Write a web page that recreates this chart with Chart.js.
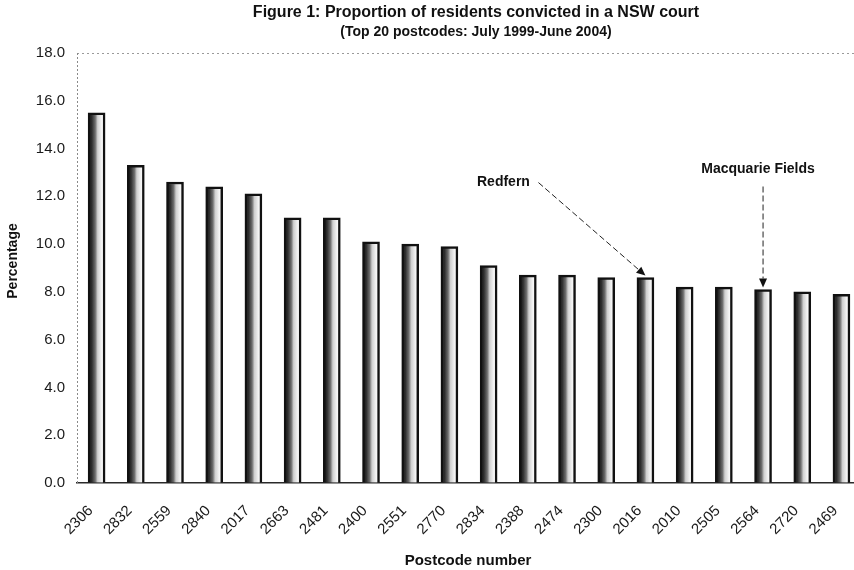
<!DOCTYPE html>
<html>
<head>
<meta charset="utf-8">
<title>Proportion of residents convicted in a NSW court</title>
<script src="https://cdn.jsdelivr.net/npm/chart.js@4/dist/chart.umd.min.js"></script>
<style>
  html, body { margin: 0; padding: 0; background: #fff; }
  #wrap { width: 854px; height: 570px; position: relative; }
</style>
</head>
<body>
<div id="wrap"><canvas id="chart" width="854" height="570"></canvas></div>
<script>
// Postcodes, ordered from highest to lowest conviction rate
const postcodes = ['2306', '2832', '2559', '2840', '2017', '2663', '2481', '2400', '2551', '2770',
                   '2834', '2388', '2474', '2300', '2016', '2010', '2505', '2564', '2720', '2469'];
// Percentage of residents convicted, July 1999 - June 2004
const percentages = [15.5, 13.3, 12.6, 12.4, 12.1, 11.1, 11.1, 10.1, 10.0, 9.9,
                     9.1, 8.7, 8.7, 8.6, 8.6, 8.2, 8.2, 8.1, 8.0, 7.9];
// Y axis range and step
const yTicks = { min: 0, max: 18, step: 2 };
// Callouts pointing at individual postcodes
const callouts = [
  { postcode: '2016', text: 'Redfern' },
  { postcode: '2564', text: 'Macquarie Fields' }
];

const FONT = '"Liberation Sans", Arial, Helvetica, sans-serif';

// Two-tone shading across each bar: dark left side, pale right side
function barFill(ctx) {
  const chart = ctx.chart;
  const xs = chart.scales.x;
  if (!xs || ctx.type !== 'data') return '#888';
  const cx = xs.getPixelForValue(ctx.dataIndex);
  if (!Number.isFinite(cx)) return '#888';
  const g = chart.ctx.createLinearGradient(cx - 8.5, 0, cx + 8.5, 0);
  g.addColorStop(0.00, '#111111');
  g.addColorStop(0.22, '#2e2e2e');
  g.addColorStop(0.42, '#6e6e6e');
  g.addColorStop(0.56, '#cfcfcf');
  g.addColorStop(0.80, '#f4f4f4');
  g.addColorStop(1.00, '#ffffff');
  return g;
}

// Titles, axis captions and the dotted value axis line
const captions = {
  id: 'captions',
  beforeDatasetsDraw(chart) {
    const c = chart.ctx;
    const area = chart.chartArea;
    c.save();
    c.strokeStyle = '#8a8a8a';
    c.lineWidth = 1;
    c.setLineDash([2, 2]);
    c.beginPath();
    c.moveTo(area.left + 0.5, area.top);
    c.lineTo(area.left + 0.5, area.bottom);
    c.stroke();
    c.restore();
  },
  afterDraw(chart) {
    const c = chart.ctx;
    const area = chart.chartArea;
    c.save();
    c.fillStyle = '#111';
    c.textAlign = 'center';
    c.textBaseline = 'middle';
    const mid = 476;
    c.font = 'bold 16px ' + FONT;
    c.fillText('Figure 1: Proportion of residents convicted in a NSW court', mid, 13);
    c.font = 'bold 14px ' + FONT;
    c.fillText('(Top 20 postcodes: July 1999-June 2004)', mid, 32);
    c.font = 'bold 15px ' + FONT;
    c.fillText('Postcode number', 468, 561);
    c.translate(13, (area.top + area.bottom) / 2 - 7);
    c.rotate(-Math.PI / 2);
    c.font = 'bold 14px ' + FONT;
    c.fillText('Percentage', 0, 0);
    c.restore();
  }
};

// Dashed arrows from the suburb names down to their bars
const calloutPlugin = {
  id: 'callouts',
  afterDatasetsDraw(chart) {
    const c = chart.ctx;
    const xs = chart.scales.x, ys = chart.scales.y;
    const layouts = {
      'Redfern':          { lx: -142, ly: -93, sx: -107, sy: -93 },
      'Macquarie Fields': { lx: -5,   ly: -118, sx: 0,  sy: -101 }
    };
    c.save();
    callouts.forEach(co => {
      const i = postcodes.indexOf(co.postcode);
      const tx = xs.getPixelForValue(i);
      const ty = ys.getPixelForValue(percentages[i]) - 2;
      const L = layouts[co.text];
      // label
      c.fillStyle = '#111';
      c.font = 'bold 14px ' + FONT;
      c.textAlign = 'center';
      c.textBaseline = 'middle';
      c.fillText(co.text, tx + L.lx, ty + L.ly);
      // dashed shaft
      const x0 = tx + L.sx, y0 = ty + L.sy;
      const ang = Math.atan2(ty - y0, tx - x0);
      const head = 9;
      c.strokeStyle = '#222';
      c.lineWidth = 1;
      c.setLineDash([6, 3]);
      c.beginPath();
      c.moveTo(x0, y0);
      c.lineTo(tx - Math.cos(ang) * head, ty - Math.sin(ang) * head);
      c.stroke();
      c.setLineDash([]);
      // arrow head
      c.fillStyle = '#111';
      c.beginPath();
      c.moveTo(tx, ty);
      c.lineTo(tx - Math.cos(ang) * head - Math.sin(ang) * 4, ty - Math.sin(ang) * head + Math.cos(ang) * 4);
      c.lineTo(tx - Math.cos(ang) * head + Math.sin(ang) * 4, ty - Math.sin(ang) * head - Math.cos(ang) * 4);
      c.closePath();
      c.fill();
    });
    c.restore();
  }
};

new Chart(document.getElementById('chart'), {
  type: 'bar',
  data: {
    datasets: [{
      label: 'Percentage',
      data: percentages.map((v, i) => ({ x: i, y: v })),
      backgroundColor: barFill,
      borderColor: '#111111',
      borderWidth: 2.5,
      borderSkipped: 'bottom',
      barThickness: 17
    }]
  },
  options: {
    responsive: false,
    animation: false,
    devicePixelRatio: 1,
    layout: { padding: { top: 53, left: 0, right: 0, bottom: 0 } },
    plugins: {
      legend: { display: false },
      title: { display: false },
      tooltip: { enabled: false }
    },
    scales: {
      x: {
        type: 'linear',
        min: -0.5,
        max: 19.32,
        offset: false,
        afterBuildTicks: axis => { axis.ticks = postcodes.map((_, i) => ({ value: i })); },
        afterFit: scale => {
          scale.height = 87;
          scale.paddingLeft = 0;
          scale.paddingRight = 0;
        },
        ticks: {
          autoSkip: false,
          minRotation: 45,
          maxRotation: 45,
          padding: 19,
          labelOffset: -6,
          color: '#1a1a1a',
          font: { family: FONT, size: 15 },
          callback: v => postcodes[v] ?? ''
        },
        grid: { display: false, drawTicks: false },
        border: { display: true, color: '#2a2a2a', width: 1.5 }
      },
      y: {
        min: yTicks.min,
        max: yTicks.max,
        afterFit: scale => {
          scale.width = 77;
          scale.paddingTop = 0;
          scale.paddingBottom = 0;
        },
        ticks: {
          stepSize: yTicks.step,
          padding: 12,
          color: '#1a1a1a',
          font: { family: FONT, size: 15 },
          callback: v => Number(v).toFixed(1)
        },
        grid: {
          drawTicks: false,
          color: ctx => (ctx.tick && ctx.tick.value === yTicks.max ? '#9a9a9a' : 'rgba(0,0,0,0)'),
          lineWidth: 1
        },
        border: { display: false, dash: [2, 3] }
      }
    }
  },
  plugins: [captions, calloutPlugin]
});
</script>
</body>
</html>
